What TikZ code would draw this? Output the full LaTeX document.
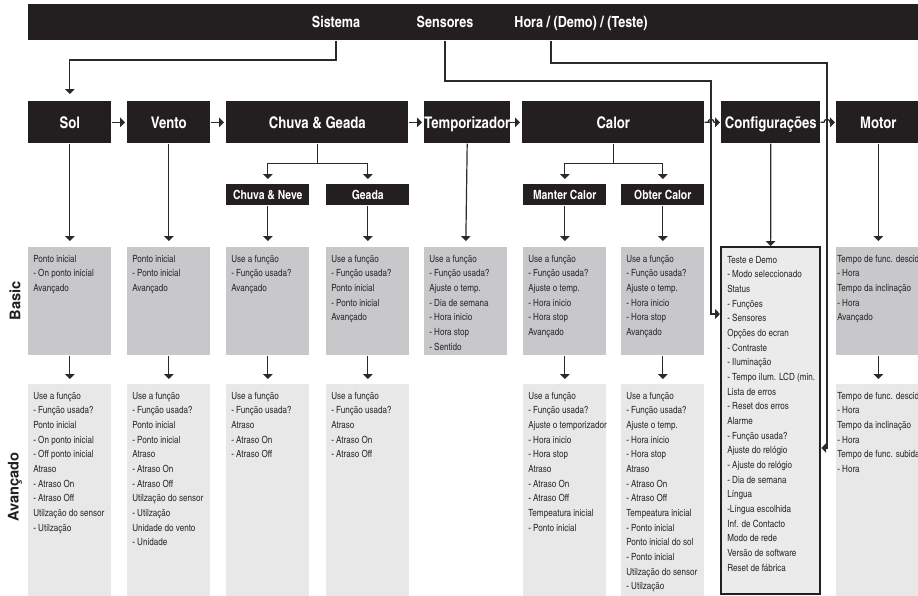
\documentclass[tikz,border=0pt]{standalone}
\usepackage{fontspec}
\setmainfont{texgyreheroscn}[Extension=.otf, UprightFont=*-regular, BoldFont=*-bold]
\newfontfamily\widefont{TeX Gyre Heros}
\usetikzlibrary{arrows.meta}
\newdimen\px \px=0.75pt
\definecolor{ink}{HTML}{231F20}
\definecolor{basicgray}{HTML}{C8C8CA}
\definecolor{advgray}{HTML}{E8E8E9}
\definecolor{cfgfill}{HTML}{EBEBEC}
\definecolor{linecol}{HTML}{2A2A2A}
\definecolor{txtcol}{HTML}{2B2829}
\newcommand\lines[1]{\parbox[t]{120\px}{\raggedright\fontsize{7.4pt}{11pt}\selectfont #1}}
\begin{document}
\begin{tikzpicture}[x=0.75pt,y=-0.75pt,
  hdr/.style={fill=ink,text=white,inner sep=0,anchor=north west,font=\bfseries\fontsize{12pt}{14pt}\selectfont,text height=8.6pt,text depth=0pt},
  subhdr/.style={hdr,font=\bfseries\fontsize{9.5pt}{11pt}\selectfont,text height=6.8pt},
  basicbox/.style={fill=basicgray,inner sep=0,anchor=north west},
  advbox/.style={fill=advgray,inner sep=0,anchor=north west},
  cfgbox/.style={fill=cfgfill,draw=ink,line width=1.7pt,inner sep=0,anchor=north west},
  txt/.style={inner sep=0,anchor=base west,text=txtcol},
  conn/.style={draw=linecol,line width=0.9pt},
  arr/.style={conn,-{Triangle[width=7pt,length=3.6pt]}},
  toptxt/.style={text=white,inner sep=0,anchor=base,font=\bfseries\fontsize{11.5pt}{13pt}\selectfont},
  lab/.style={inner sep=0,text=ink,font=\widefont\bfseries\fontsize{11pt}{13pt}\selectfont}
]
\useasboundingbox (0,0) rectangle (918,596);

% top bar
\node[fill=ink,inner sep=0,anchor=north west,minimum width=892\px,minimum height=36\px] (bar) at (28,4) {};
\node[toptxt] (sis) at (336,27) {Sistema};
\node[toptxt] (sen) at (445,27) {Sensores};
\node[toptxt] (hora) at (581,27) {Hora / (Demo) / (Teste)};

% header row
\node[hdr,minimum width=83\px,minimum height=42\px] (sol) at (28,101) {Sol};
\node[hdr,minimum width=83\px,minimum height=42\px] (vento) at (127,101) {Vento};
\node[hdr,minimum width=182\px,minimum height=42\px] (chuva) at (226,101) {Chuva \& Geada};
\node[hdr,minimum width=83\px,minimum height=42\px] (temp) at (424,101) {Temporizador};
\node[hdr,minimum width=182\px,minimum height=42\px] (calor) at (522,101) {Calor};
\node[hdr,minimum width=99\px,minimum height=42\px] (conf) at (721,101) {Configurações};
\node[hdr,minimum width=84\px,minimum height=42\px] (motor) at (836,101) {Motor};

% sub headers
\node[subhdr,minimum width=83\px,minimum height=21\px] (cn) at (226,184) {Chuva \& Neve};
\node[subhdr,minimum width=83\px,minimum height=21\px] (ge) at (326,184) {Geada};
\node[subhdr,minimum width=83\px,minimum height=21\px] (ma) at (523,184) {Manter Calor};
\node[subhdr,minimum width=83\px,minimum height=21\px] (ob) at (621,184) {Obter Calor};

% basic boxes
\node[basicbox,minimum width=83\px,minimum height=108\px] (solb) at (28,247) {};
\node[basicbox,minimum width=83\px,minimum height=108\px] (ventob) at (127,247) {};
\node[basicbox,minimum width=83\px,minimum height=108\px] (cnb) at (226,247) {};
\node[basicbox,minimum width=83\px,minimum height=108\px] (geb) at (326,247) {};
\node[basicbox,minimum width=83\px,minimum height=108\px] (tempb) at (424,247) {};
\node[basicbox,minimum width=83\px,minimum height=108\px] (mab) at (523,247) {};
\node[basicbox,minimum width=83\px,minimum height=108\px] (obb) at (621,247) {};
\node[basicbox,minimum width=84\px,minimum height=108\px] (motb) at (836,247) {};

% advanced boxes
\node[advbox,minimum width=83\px,minimum height=212\px] (sola) at (28,384) {};
\node[advbox,minimum width=83\px,minimum height=212\px] (ventoa) at (127,384) {};
\node[advbox,minimum width=83\px,minimum height=212\px] (cna) at (226,384) {};
\node[advbox,minimum width=83\px,minimum height=212\px] (gea) at (326,384) {};
\node[advbox,minimum width=83\px,minimum height=212\px] (maa) at (523,384) {};
\node[advbox,minimum width=83\px,minimum height=212\px] (oba) at (621,384) {};
\node[advbox,minimum width=84\px,minimum height=212\px] (mota) at (836,384) {};

% configuration box
\node[cfgbox,minimum width=99\px,minimum height=347\px] (confb) at (720,246) {};

% texts basic
\node[txt] (solbt) at ([shift={(5,15)}]solb.north west) {\lines{Ponto inicial\\- On ponto inicial\\Avançado}};
\node[txt] (ventobt) at ([shift={(5,15)}]ventob.north west) {\lines{Ponto inicial\\- Ponto inicial\\Avançado}};
\node[txt] (cnbt) at ([shift={(5,15)}]cnb.north west) {\lines{Use a função\\- Função usada?\\Avançado}};
\node[txt] (gebt) at ([shift={(5,15)}]geb.north west) {\lines{Use a função\\- Função usada?\\Ponto inicial\\- Ponto inicial\\Avançado}};
\node[txt] (tempbt) at ([shift={(5,15)}]tempb.north west) {\lines{Use a função\\- Função usada?\\Ajuste o temp.\\- Dia de semana\\- Hora inicio\\- Hora stop\\- Sentido}};
\node[txt] (mabt) at ([shift={(5,15)}]mab.north west) {\lines{Use a função\\- Função usada?\\Ajuste o temp.\\- Hora inicio\\- Hora stop\\Avançado}};
\node[txt] (obbt) at ([shift={(5,15)}]obb.north west) {\lines{Use a função\\- Função usada?\\Ajuste o temp.\\- Hora inicio\\- Hora stop\\Avançado}};
\node[txt] (motbt) at ([shift={(1,15)}]motb.north west) {\lines{Tempo de func. descida\\- Hora\\Tempo da inclinação\\- Hora\\Avançado}};

% texts advanced
\node[txt] (solat) at ([shift={(5,15)}]sola.north west) {\lines{Use a função\\- Função usada?\\Ponto inicial\\- On ponto inicial\\- Off ponto inicial\\Atraso\\- Atraso On\\- Atraso Off\\Utilzação do sensor\\- Utilzação}};
\node[txt] (ventoat) at ([shift={(5,15)}]ventoa.north west) {\lines{Use a função\\- Função usada?\\Ponto inicial\\- Ponto inicial\\Atraso\\- Atraso On\\- Atraso Off\\Utilzação do sensor\\- Utilzação\\Unidade do vento\\- Unidade}};
\node[txt] (cnat) at ([shift={(5,15)}]cna.north west) {\lines{Use a função\\- Função usada?\\Atraso\\- Atraso On\\- Atraso Off}};
\node[txt] (geat) at ([shift={(5,15)}]gea.north west) {\lines{Use a função\\- Função usada?\\Atraso\\- Atraso On\\- Atraso Off}};
\node[txt] (maat) at ([shift={(5,15)}]maa.north west) {\lines{Use a função\\- Função usada?\\Ajuste o temporizador\\- Hora inicio\\- Hora stop\\Atraso\\- Atraso On\\- Atraso Off\\Tempeatura inicial\\- Ponto inicial}};
\node[txt] (obat) at ([shift={(5,15)}]oba.north west) {\lines{Use a função\\- Função usada?\\Ajuste o temp.\\- Hora inicio\\- Hora stop\\Atraso\\- Atraso On\\- Atraso Off\\Tempeatura inicial\\- Ponto inicial\\Ponto inicial do sol\\- Ponto inicial\\Utilzação do sensor\\- Utilzação}};
\node[txt] (motat) at ([shift={(1,15)}]mota.north west) {\lines{Tempo de func. descida\\- Hora\\Tempo da inclinação\\- Hora\\Tempo de func. subida\\- Hora}};

% config text
\node[txt] (confbt) at ([shift={(7,17)}]confb.north west) {\lines{Teste e Demo\\- Modo seleccionado\\Status\\- Funções\\- Sensores\\Opções do ecran\\- Contraste\\- Iluminação\\- Tempo ilum. LCD (min.\\Lista de erros\\- Reset dos erros\\Alarme\\- Função usada?\\Ajuste do relógio\\- Ajuste do relógio\\- Dia de semana\\Língua\\-Língua escolhida\\Inf. de Contacto\\Modo de rede\\Versão de software\\Reset de fábrica}};

% side labels
\node[lab,rotate=90] (lbasic) at (15,301) {Basic};
\node[lab,rotate=90] (ladv) at (15,487) {Avançado};

% connectors from top bar
\coordinate (sisk) at (336,60);
\coordinate (horak) at (551,63);
\coordinate (senk) at (445,81);
\coordinate (senv) at (711,314);
\coordinate (horav) at (827,448);
\draw[arr,shorten >=7\px] (bar.south -| sisk) -- (sisk) -| (sol.north);
\draw[arr] (bar.south -| senk) -- (senk) -| (senv) -- (confb.west |- senv);
\draw[arr] (bar.south -| horak) -- (horak) -| (horav) -- (confb.east |- horav);

% header row arrows
\draw[arr,shorten >=2\px] (sol.east) -- (vento.west);
\draw[arr,shorten >=2\px] (vento.east) -- (chuva.west);
\draw[arr,shorten >=2\px] (chuva.east) -- (temp.west);
\draw[arr,shorten >=2\px] (temp.east) -- (calor.west);
\draw[arr,shorten >=1\px] (calor.east) -- (calor.east -| senv) ++(-3,0) arc[start angle=180,end angle=360,radius=3] -- (conf.west);
\draw[arr,shorten >=1\px] (conf.east) -- ([xshift=-3*0.75pt]conf.east -| horav) arc[start angle=180,end angle=360,radius=3] -- (motor.west);

% branches
\coordinate (chj) at ([shift={(0,20)}]chuva.south);
\coordinate (caj) at ([shift={(0,20)}]calor.south);
\draw[conn] (chuva.south) -- (chj);
\draw[arr,shorten >=5\px] (chj) -| (cn.north);
\draw[arr,shorten >=5\px] (chj) -| (ge.north);
\draw[conn] (calor.south) -- (caj);
\draw[arr,shorten >=5\px] (caj) -| (ma.north);
\draw[arr,shorten >=5\px] (caj) -| (ob.north);

% to basic
\draw[arr,shorten >=6\px] (sol.south) -- (solb.north);
\draw[arr,shorten >=6\px] (vento.south) -- (ventob.north);
\draw[arr,shorten >=6\px] (cn.south) -- (cnb.north);
\draw[arr,shorten >=6\px] (ge.south) -- (geb.north);
\draw[arr,shorten >=6\px] (temp.south) -- (tempb.north);
\draw[arr,shorten >=6\px] (ma.south) -- (mab.north);
\draw[arr,shorten >=6\px] (ob.south) -- (obb.north);
\draw[arr] (conf.south) -- (confb.north);
\draw[arr,shorten >=6\px] (motor.south) -- (motb.north);

% basic to advanced
\draw[arr,shorten >=5\px] (solb.south) -- (sola.north);
\draw[arr,shorten >=5\px] (ventob.south) -- (ventoa.north);
\draw[arr,shorten >=5\px] (cnb.south) -- (cna.north);
\draw[arr,shorten >=5\px] (geb.south) -- (gea.north);
\draw[arr,shorten >=5\px] (mab.south) -- (maa.north);
\draw[arr,shorten >=5\px] (obb.south) -- (oba.north);
\draw[arr,shorten >=5\px] (motb.south) -- (mota.north);
\end{tikzpicture}
\end{document}
